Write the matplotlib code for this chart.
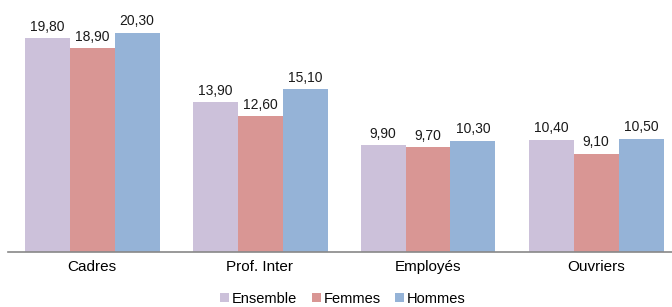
import matplotlib.pyplot as plt
import numpy as np

plt.rcParams['font.family'] = ['Liberation Sans', 'DejaVu Sans']

# Données
categories = ['Cadres', 'Prof. Inter', 'Employés', 'Ouvriers']
series = ['Ensemble', 'Femmes', 'Hommes']
ensemble = [19.8, 13.9, 9.9, 10.4]
femmes = [18.9, 12.6, 9.7, 9.1]
hommes = [20.3, 15.1, 10.3, 10.5]
couleurs = ['#CCC1DA', '#D99694', '#95B3D7']

fig = plt.figure(figsize=(6.72, 3.07), dpi=100)
# axes slightly wider than the figure: the last group is clipped on the right
ax = fig.add_axes([8 / 672, 1 - 252 / 307, 672 / 672, 236 / 307])

x = np.arange(len(categories))
w = 45 / 168
for i, (vals, lab, col) in enumerate(zip([ensemble, femmes, hommes], series, couleurs)):
    pos = x + (i - 1) * w
    ax.bar(pos, vals, width=w, color=col, label=lab)
    for p, v in zip(pos, vals):
        ax.text(p, v + 0.4, f'{v:.2f}'.replace('.', ','), ha='center', va='bottom',
                fontsize=10, color='#1a1a1a')

ax.set_xlim(-0.5, 3.5)
ax.set_ylim(0, 236 / 10.8)
ax.set_xticks(x)
ax.set_xticklabels(categories, fontsize=11)
ax.tick_params(axis='x', length=0, pad=6)
ax.set_yticks([])
for s in ['top', 'right', 'left']:
    ax.spines[s].set_visible(False)
ax.spines['bottom'].set_color('#888888')
ax.spines['bottom'].set_linewidth(1.2)

fig.legend(loc='center', bbox_to_anchor=(343 / 672, 1 - 299 / 307), ncol=3, frameon=False,
           fontsize=10.5, handlelength=0.6, handleheight=0.6, handletextpad=0.2,
           columnspacing=1.0, borderaxespad=0)

fig.savefig('out.png', dpi=100)
